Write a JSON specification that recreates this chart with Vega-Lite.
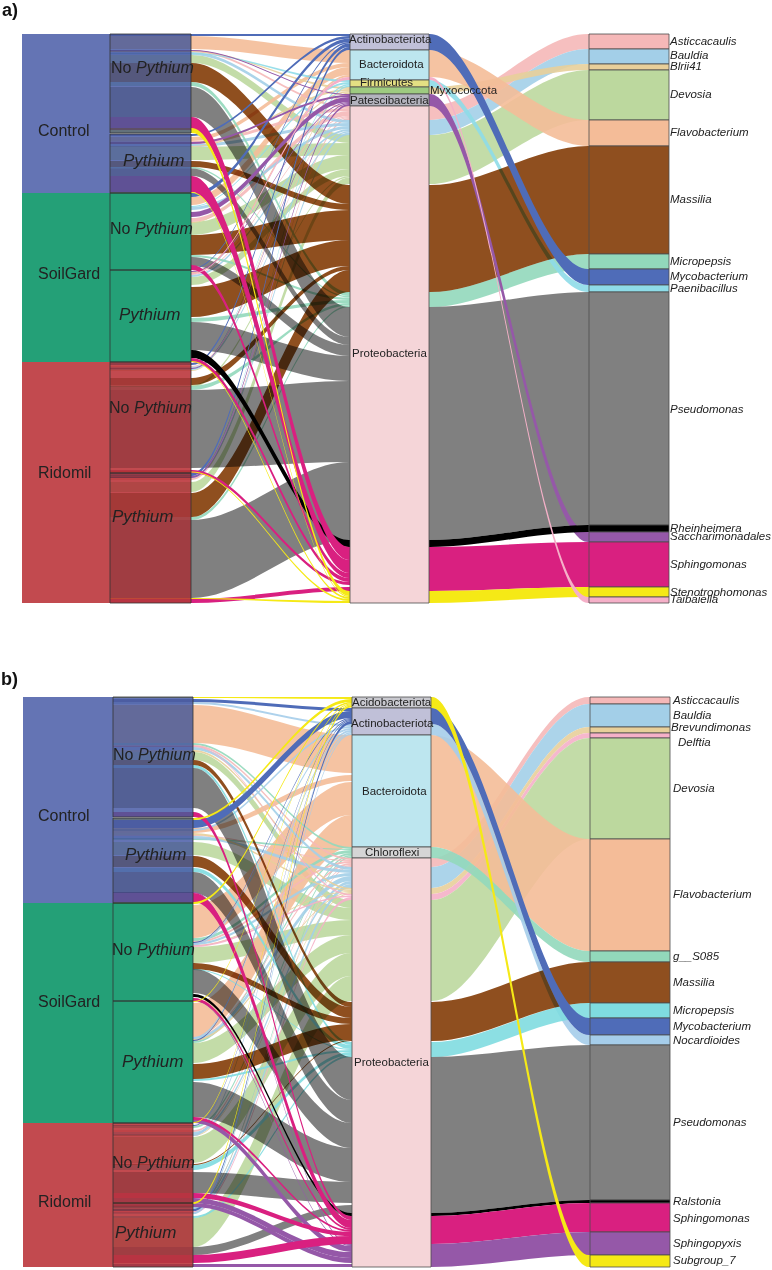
{"$schema":"https://vega.github.io/schema/vega-lite/v6.json","width":772,"height":1270,"padding":0,"autosize":{"type":"none"},"background":"white","config":{"view":{"stroke":null}},
"datasets":{
"boxes":[
{"k":"1","g":"Control","x":22,"x2":110,"y":34,"e":193},{"k":"1","g":"SoilGard","x":22,"x2":110,"y":193,"e":362},{"k":"1","g":"Ridomil","x":22,"x2":110,"y":362,"e":603},
{"k":"2","g":"Control","x":110,"x2":191,"y":34,"e":133},{"k":"2","g":"Control","x":110,"x2":191,"y":134,"e":193},{"k":"2","g":"SoilGard","x":110,"x2":191,"y":193,"e":270},{"k":"2","g":"SoilGard","x":110,"x2":191,"y":270,"e":362},{"k":"2","g":"Ridomil","x":110,"x2":191,"y":362,"e":473},{"k":"2","g":"Ridomil","x":110,"x2":191,"y":473,"e":603},
{"k":"1","g":"Control","x":23,"x2":113,"y":697,"e":903},{"k":"1","g":"SoilGard","x":23,"x2":113,"y":903,"e":1123},{"k":"1","g":"Ridomil","x":23,"x2":113,"y":1123,"e":1267},
{"k":"2","g":"Control","x":113,"x2":193,"y":697,"e":817},{"k":"2","g":"Control","x":113,"x2":193,"y":818,"e":903},{"k":"2","g":"SoilGard","x":113,"x2":193,"y":903,"e":1001},{"k":"2","g":"SoilGard","x":113,"x2":193,"y":1001,"e":1123},{"k":"2","g":"Ridomil","x":113,"x2":193,"y":1123,"e":1203},{"k":"2","g":"Ridomil","x":113,"x2":193,"y":1203,"e":1267},
{"k":"3","g":"Actinobacteriota","x":350,"x2":429,"y":34,"e":50},{"k":"3","g":"Bacteroidota","x":350,"x2":429,"y":50,"e":80},{"k":"3","g":"Firmicutes","x":350,"x2":429,"y":80,"e":87},{"k":"3","g":"Myxococcota","x":350,"x2":429,"y":87,"e":94},{"k":"3","g":"Patescibacteria","x":350,"x2":429,"y":94,"e":106},{"k":"3","g":"Proteobacteria","x":350,"x2":429,"y":106,"e":603},
{"k":"3","g":"Ast","x":589,"x2":669,"y":34,"e":49},{"k":"3","g":"Bau","x":589,"x2":669,"y":49,"e":64},{"k":"3","g":"Bli","x":589,"x2":669,"y":64,"e":70},{"k":"3","g":"Dev","x":589,"x2":669,"y":70,"e":120},{"k":"3","g":"Fla","x":589,"x2":669,"y":120,"e":146},{"k":"3","g":"Mas","x":589,"x2":669,"y":146,"e":254},{"k":"3","g":"Mic","x":589,"x2":669,"y":254,"e":269},{"k":"3","g":"Myc","x":589,"x2":669,"y":269,"e":285},{"k":"3","g":"Pae","x":589,"x2":669,"y":285,"e":292},{"k":"3","g":"Pse","x":589,"x2":669,"y":292,"e":525},{"k":"3","g":"Rhe","x":589,"x2":669,"y":525,"e":532},{"k":"3","g":"Sac","x":589,"x2":669,"y":532,"e":542},{"k":"3","g":"Sph","x":589,"x2":669,"y":542,"e":587},{"k":"3","g":"Ste","x":589,"x2":669,"y":587,"e":597},{"k":"3","g":"Tai","x":589,"x2":669,"y":597,"e":603},
{"k":"3","g":"Acidobacteriota","x":352,"x2":431,"y":697,"e":708},{"k":"3","g":"Actinobacteriota","x":352,"x2":431,"y":708,"e":735},{"k":"3","g":"Bacteroidota","x":352,"x2":431,"y":735,"e":847},{"k":"3","g":"Chloroflexi","x":352,"x2":431,"y":847,"e":858},{"k":"3","g":"Proteobacteria","x":352,"x2":431,"y":858,"e":1267},
{"k":"3","g":"Ast","x":590,"x2":670,"y":697,"e":704},{"k":"3","g":"Bau","x":590,"x2":670,"y":704,"e":727},{"k":"3","g":"Bre","x":590,"x2":670,"y":727,"e":733},{"k":"3","g":"Del","x":590,"x2":670,"y":733,"e":738},{"k":"3","g":"Dev","x":590,"x2":670,"y":738,"e":839},{"k":"3","g":"Fla","x":590,"x2":670,"y":839,"e":951},{"k":"3","g":"S08","x":590,"x2":670,"y":951,"e":962},{"k":"3","g":"Mas","x":590,"x2":670,"y":962,"e":1003},{"k":"3","g":"Mi2","x":590,"x2":670,"y":1003,"e":1018},{"k":"3","g":"Myc","x":590,"x2":670,"y":1018,"e":1035},{"k":"3","g":"Noc","x":590,"x2":670,"y":1035,"e":1045},{"k":"3","g":"Pse","x":590,"x2":670,"y":1045,"e":1200},{"k":"3","g":"Ral","x":590,"x2":670,"y":1200,"e":1203},{"k":"3","g":"Sph","x":590,"x2":670,"y":1203,"e":1232},{"k":"3","g":"Spx","x":590,"x2":670,"y":1232,"e":1255},{"k":"3","g":"Sub","x":590,"x2":670,"y":1255,"e":1267}
],
"labels":[
{"t":"a)","k":"b","s":18,"x":2,"y":11},{"t":"b)","k":"b","s":18,"x":1,"y":680},
{"t":"Control","k":"n","s":16,"x":38,"y":131},{"t":"SoilGard","k":"n","s":16,"x":38,"y":274},{"t":"Ridomil","k":"n","s":16,"x":38,"y":473},
{"t":"Control","k":"n","s":16,"x":38,"y":816},{"t":"SoilGard","k":"n","s":16,"x":38,"y":1002},{"t":"Ridomil","k":"n","s":16,"x":38,"y":1202},
{"t":"No","k":"n","s":16,"x":111,"y":68},{"t":"Pythium","k":"i","s":16,"x":136,"y":68},{"t":"Pythium","k":"i","s":17,"x":123,"y":161},{"t":"No","k":"n","s":16,"x":110,"y":229},{"t":"Pythium","k":"i","s":16,"x":135,"y":229},{"t":"Pythium","k":"i","s":17,"x":119,"y":315},{"t":"No","k":"n","s":16,"x":109,"y":408},{"t":"Pythium","k":"i","s":16,"x":134,"y":408},{"t":"Pythium","k":"i","s":17,"x":112,"y":517},
{"t":"No","k":"n","s":16,"x":113,"y":755},{"t":"Pythium","k":"i","s":16,"x":138,"y":755},{"t":"Pythium","k":"i","s":17,"x":125,"y":855},{"t":"No","k":"n","s":16,"x":112,"y":950},{"t":"Pythium","k":"i","s":16,"x":137,"y":950},{"t":"Pythium","k":"i","s":17,"x":122,"y":1062},{"t":"No","k":"n","s":16,"x":112,"y":1163},{"t":"Pythium","k":"i","s":16,"x":137,"y":1163},{"t":"Pythium","k":"i","s":17,"x":115,"y":1233},
{"t":"Actinobacteriota","k":"n","s":11.5,"x":349,"y":40},{"t":"Bacteroidota","k":"n","s":11.5,"x":359,"y":65},{"t":"Firmicutes","k":"n","s":11.5,"x":360,"y":83},{"t":"Myxococcota","k":"n","s":11.5,"x":430,"y":91},{"t":"Patescibacteria","k":"n","s":11.5,"x":350,"y":101},{"t":"Proteobacteria","k":"n","s":11.5,"x":352,"y":354},
{"t":"Acidobacteriota","k":"n","s":11.5,"x":352,"y":703},{"t":"Actinobacteriota","k":"n","s":11.5,"x":351,"y":724},{"t":"Bacteroidota","k":"n","s":11.5,"x":362,"y":792},{"t":"Chloroflexi","k":"n","s":11.5,"x":365,"y":853},{"t":"Proteobacteria","k":"n","s":11.5,"x":354,"y":1063},
{"t":"Asticcacaulis","k":"i","s":11.5,"x":670,"y":42},{"t":"Bauldia","k":"i","s":11.5,"x":670,"y":56},{"t":"Blrii41","k":"i","s":11.5,"x":670,"y":67},{"t":"Devosia","k":"i","s":11.5,"x":670,"y":95},{"t":"Flavobacterium","k":"i","s":11.5,"x":670,"y":133},{"t":"Massilia","k":"i","s":11.5,"x":670,"y":200},{"t":"Micropepsis","k":"i","s":11.5,"x":670,"y":262},{"t":"Mycobacterium","k":"i","s":11.5,"x":670,"y":277},{"t":"Paenibacillus","k":"i","s":11.5,"x":670,"y":289},{"t":"Pseudomonas","k":"i","s":11.5,"x":670,"y":410},{"t":"Rheinheimera","k":"i","s":11.5,"x":670,"y":529},{"t":"Saccharimonadales","k":"i","s":11.5,"x":670,"y":537},{"t":"Sphingomonas","k":"i","s":11.5,"x":670,"y":565},{"t":"Stenotrophomonas","k":"i","s":11.5,"x":670,"y":593},{"t":"Taibaiella","k":"i","s":11.5,"x":670,"y":600},
{"t":"Asticcacaulis","k":"i","s":11.5,"x":673,"y":701},{"t":"Bauldia","k":"i","s":11.5,"x":673,"y":716},{"t":"Brevundimonas","k":"i","s":11.5,"x":671,"y":728},{"t":"Delftia","k":"i","s":11.5,"x":678,"y":743},{"t":"Devosia","k":"i","s":11.5,"x":673,"y":789},{"t":"Flavobacterium","k":"i","s":11.5,"x":673,"y":895},{"t":"g__S085","k":"i","s":11.5,"x":673,"y":957},{"t":"Massilia","k":"i","s":11.5,"x":673,"y":983},{"t":"Micropepsis","k":"i","s":11.5,"x":673,"y":1011},{"t":"Mycobacterium","k":"i","s":11.5,"x":673,"y":1027},{"t":"Nocardioides","k":"i","s":11.5,"x":673,"y":1041},{"t":"Pseudomonas","k":"i","s":11.5,"x":673,"y":1123},{"t":"Ralstonia","k":"i","s":11.5,"x":673,"y":1202},{"t":"Sphingomonas","k":"i","s":11.5,"x":673,"y":1219},{"t":"Sphingopyxis","k":"i","s":11.5,"x":673,"y":1244},{"t":"Subgroup_7","k":"i","s":11.5,"x":673,"y":1261}
],
"flows":[
{"f":"p1","g":"Ast","x":429,"y":106,"e":120},{"f":"p1","g":"Ast","x":430,"y":106,"e":120},{"f":"p1","g":"Ast","x":588,"y":34,"e":49},{"f":"p1","g":"Ast","x":589,"y":34,"e":49},
{"f":"p2","g":"Bau","x":429,"y":120,"e":135},{"f":"p2","g":"Bau","x":430,"y":120,"e":135},{"f":"p2","g":"Bau","x":588,"y":49,"e":64},{"f":"p2","g":"Bau","x":589,"y":49,"e":64},
{"f":"p3","g":"Dev","x":429,"y":135,"e":184},{"f":"p3","g":"Dev","x":430,"y":135,"e":184},{"f":"p3","g":"Dev","x":588,"y":70,"e":120},{"f":"p3","g":"Dev","x":589,"y":70,"e":120},
{"f":"p4","g":"Bli","x":429,"y":87,"e":94},{"f":"p4","g":"Bli","x":430,"y":87,"e":94},{"f":"p4","g":"Bli","x":588,"y":64,"e":70},{"f":"p4","g":"Bli","x":589,"y":64,"e":70},
{"f":"p5","g":"Fla","x":429,"y":50,"e":77},{"f":"p5","g":"Fla","x":430,"y":50,"e":77},{"f":"p5","g":"Fla","x":588,"y":120,"e":146},{"f":"p5","g":"Fla","x":589,"y":120,"e":146},
{"f":"p6","g":"Mic","x":429,"y":292,"e":307},{"f":"p6","g":"Mic","x":430,"y":292,"e":307},{"f":"p6","g":"Mic","x":588,"y":254,"e":269},{"f":"p6","g":"Mic","x":589,"y":254,"e":269},
{"f":"p7","g":"Pae","x":429,"y":80,"e":87},{"f":"p7","g":"Pae","x":430,"y":80,"e":87},{"f":"p7","g":"Pae","x":588,"y":285,"e":292},{"f":"p7","g":"Pae","x":589,"y":285,"e":292},
{"f":"p8","g":"Pse","x":429,"y":307,"e":540},{"f":"p8","g":"Pse","x":430,"y":307,"e":540},{"f":"p8","g":"Pse","x":588,"y":292,"e":525},{"f":"p8","g":"Pse","x":589,"y":292,"e":525},
{"f":"p9","g":"Mas","x":429,"y":185,"e":292},{"f":"p9","g":"Mas","x":430,"y":185,"e":292},{"f":"p9","g":"Mas","x":588,"y":146,"e":254},{"f":"p9","g":"Mas","x":589,"y":146,"e":254},
{"f":"p10","g":"Myc","x":429,"y":34,"e":50},{"f":"p10","g":"Myc","x":430,"y":34,"e":50},{"f":"p10","g":"Myc","x":588,"y":269,"e":285},{"f":"p10","g":"Myc","x":589,"y":269,"e":285},
{"f":"p11","g":"Sac","x":429,"y":94,"e":106},{"f":"p11","g":"Sac","x":430,"y":94,"e":106},{"f":"p11","g":"Sac","x":588,"y":532,"e":542},{"f":"p11","g":"Sac","x":589,"y":532,"e":542},
{"f":"p12","g":"Rhe","x":429,"y":540,"e":547},{"f":"p12","g":"Rhe","x":430,"y":540,"e":547},{"f":"p12","g":"Rhe","x":588,"y":525,"e":532},{"f":"p12","g":"Rhe","x":589,"y":525,"e":532},
{"f":"p13","g":"Sph","x":429,"y":547,"e":591},{"f":"p13","g":"Sph","x":430,"y":547,"e":591},{"f":"p13","g":"Sph","x":588,"y":542,"e":587},{"f":"p13","g":"Sph","x":589,"y":542,"e":587},
{"f":"p14","g":"Ste","x":429,"y":591,"e":603},{"f":"p14","g":"Ste","x":430,"y":591,"e":603},{"f":"p14","g":"Ste","x":588,"y":587,"e":597},{"f":"p14","g":"Ste","x":589,"y":587,"e":597},
{"f":"p15","g":"Tai","x":429,"y":77,"e":80},{"f":"p15","g":"Tai","x":430,"y":77,"e":80},{"f":"p15","g":"Tai","x":588,"y":597,"e":603},{"f":"p15","g":"Tai","x":589,"y":597,"e":603},
{"f":"q1","g":"Ast","x":431,"y":858,"e":867},{"f":"q1","g":"Ast","x":432,"y":858,"e":867},{"f":"q1","g":"Ast","x":589,"y":697,"e":704},{"f":"q1","g":"Ast","x":590,"y":697,"e":704},
{"f":"q2","g":"Bau","x":431,"y":867,"e":888},{"f":"q2","g":"Bau","x":432,"y":867,"e":888},{"f":"q2","g":"Bau","x":589,"y":704,"e":727},{"f":"q2","g":"Bau","x":590,"y":704,"e":727},
{"f":"q3","g":"Bre","x":431,"y":888,"e":894},{"f":"q3","g":"Bre","x":432,"y":888,"e":894},{"f":"q3","g":"Bre","x":589,"y":727,"e":733},{"f":"q3","g":"Bre","x":590,"y":727,"e":733},
{"f":"q4","g":"Del","x":431,"y":894,"e":900},{"f":"q4","g":"Del","x":432,"y":894,"e":900},{"f":"q4","g":"Del","x":589,"y":733,"e":738},{"f":"q4","g":"Del","x":590,"y":733,"e":738},
{"f":"q5","g":"Dev","x":431,"y":900,"e":1001},{"f":"q5","g":"Dev","x":432,"y":900,"e":1001},{"f":"q5","g":"Dev","x":589,"y":738,"e":839},{"f":"q5","g":"Dev","x":590,"y":738,"e":839},
{"f":"q6","g":"Fla","x":431,"y":735,"e":847},{"f":"q6","g":"Fla","x":432,"y":735,"e":847},{"f":"q6","g":"Fla","x":589,"y":839,"e":951},{"f":"q6","g":"Fla","x":590,"y":839,"e":951},
{"f":"q7","g":"S08","x":431,"y":847,"e":858},{"f":"q7","g":"S08","x":432,"y":847,"e":858},{"f":"q7","g":"S08","x":589,"y":951,"e":962},{"f":"q7","g":"S08","x":590,"y":951,"e":962},
{"f":"q8","g":"Noc","x":431,"y":724,"e":735},{"f":"q8","g":"Noc","x":432,"y":724,"e":735},{"f":"q8","g":"Noc","x":589,"y":1035,"e":1045},{"f":"q8","g":"Noc","x":590,"y":1035,"e":1045},
{"f":"q9","g":"Mi2","x":431,"y":1042,"e":1057},{"f":"q9","g":"Mi2","x":432,"y":1042,"e":1057},{"f":"q9","g":"Mi2","x":589,"y":1003,"e":1018},{"f":"q9","g":"Mi2","x":590,"y":1003,"e":1018},
{"f":"q10","g":"Pse","x":431,"y":1057,"e":1213},{"f":"q10","g":"Pse","x":432,"y":1057,"e":1213},{"f":"q10","g":"Pse","x":589,"y":1045,"e":1200},{"f":"q10","g":"Pse","x":590,"y":1045,"e":1200},
{"f":"q11","g":"Mas","x":431,"y":1002,"e":1041},{"f":"q11","g":"Mas","x":432,"y":1002,"e":1041},{"f":"q11","g":"Mas","x":589,"y":962,"e":1003},{"f":"q11","g":"Mas","x":590,"y":962,"e":1003},
{"f":"q12","g":"Myc","x":431,"y":708,"e":724},{"f":"q12","g":"Myc","x":432,"y":708,"e":724},{"f":"q12","g":"Myc","x":589,"y":1018,"e":1035},{"f":"q12","g":"Myc","x":590,"y":1018,"e":1035},
{"f":"q13","g":"Ral","x":431,"y":1213,"e":1216},{"f":"q13","g":"Ral","x":432,"y":1213,"e":1216},{"f":"q13","g":"Ral","x":589,"y":1200,"e":1203},{"f":"q13","g":"Ral","x":590,"y":1200,"e":1203},
{"f":"q14","g":"Sph","x":431,"y":1216,"e":1244},{"f":"q14","g":"Sph","x":432,"y":1216,"e":1244},{"f":"q14","g":"Sph","x":589,"y":1203,"e":1232},{"f":"q14","g":"Sph","x":590,"y":1203,"e":1232},
{"f":"q15","g":"Spx","x":431,"y":1244,"e":1267},{"f":"q15","g":"Spx","x":432,"y":1244,"e":1267},{"f":"q15","g":"Spx","x":589,"y":1232,"e":1255},{"f":"q15","g":"Spx","x":590,"y":1232,"e":1255},
{"f":"q16","g":"Sub","x":431,"y":697,"e":708},{"f":"q16","g":"Sub","x":432,"y":697,"e":708},{"f":"q16","g":"Sub","x":589,"y":1255,"e":1267},{"f":"q16","g":"Sub","x":590,"y":1255,"e":1267},
{"f":"a1","g":"Dev","x":191,"y":55,"e":63},{"f":"a1","g":"Dev","x":192,"y":55,"e":63},{"f":"a1","g":"Dev","x":349,"y":135,"e":143},{"f":"a1","g":"Dev","x":350,"y":135,"e":143},
{"f":"a2","g":"Dev","x":191,"y":147,"e":160},{"f":"a2","g":"Dev","x":192,"y":147,"e":160},{"f":"a2","g":"Dev","x":349,"y":143,"e":155},{"f":"a2","g":"Dev","x":350,"y":143,"e":155},
{"f":"a3","g":"Dev","x":191,"y":222,"e":235},{"f":"a3","g":"Dev","x":192,"y":222,"e":235},{"f":"a3","g":"Dev","x":349,"y":155,"e":169},{"f":"a3","g":"Dev","x":350,"y":155,"e":169},
{"f":"a4","g":"Dev","x":191,"y":277,"e":285},{"f":"a4","g":"Dev","x":192,"y":277,"e":285},{"f":"a4","g":"Dev","x":349,"y":169,"e":176},{"f":"a4","g":"Dev","x":350,"y":169,"e":176},
{"f":"a5","g":"Dev","x":191,"y":385,"e":387},{"f":"a5","g":"Dev","x":192,"y":385,"e":387},{"f":"a5","g":"Dev","x":349,"y":176,"e":177.5},{"f":"a5","g":"Dev","x":350,"y":176,"e":177.5},
{"f":"a6","g":"Dev","x":191,"y":482,"e":492},{"f":"a6","g":"Dev","x":192,"y":482,"e":492},{"f":"a6","g":"Dev","x":349,"y":177.5,"e":184},{"f":"a6","g":"Dev","x":350,"y":177.5,"e":184},
{"f":"a7","g":"Fla","x":191,"y":36,"e":49},{"f":"a7","g":"Fla","x":192,"y":36,"e":49},{"f":"a7","g":"Fla","x":349,"y":50,"e":63},{"f":"a7","g":"Fla","x":350,"y":50,"e":63},
{"f":"a8","g":"Fla","x":191,"y":137,"e":141},{"f":"a8","g":"Fla","x":192,"y":137,"e":141},{"f":"a8","g":"Fla","x":349,"y":63,"e":67},{"f":"a8","g":"Fla","x":350,"y":63,"e":67},
{"f":"a9","g":"Fla","x":191,"y":197,"e":205},{"f":"a9","g":"Fla","x":192,"y":197,"e":205},{"f":"a9","g":"Fla","x":349,"y":67,"e":75},{"f":"a9","g":"Fla","x":350,"y":67,"e":75},
{"f":"a10","g":"Fla","x":191,"y":272,"e":274},{"f":"a10","g":"Fla","x":192,"y":272,"e":274},{"f":"a10","g":"Fla","x":349,"y":75,"e":77},{"f":"a10","g":"Fla","x":350,"y":75,"e":77},
{"f":"a11","g":"Ast","x":191,"y":50,"e":52},{"f":"a11","g":"Ast","x":192,"y":50,"e":52},{"f":"a11","g":"Ast","x":349,"y":106,"e":108},{"f":"a11","g":"Ast","x":350,"y":106,"e":108},
{"f":"a12","g":"Ast","x":191,"y":141,"e":144},{"f":"a12","g":"Ast","x":192,"y":141,"e":144},{"f":"a12","g":"Ast","x":349,"y":108,"e":111},{"f":"a12","g":"Ast","x":350,"y":108,"e":111},
{"f":"a13","g":"Ast","x":191,"y":218,"e":222},{"f":"a13","g":"Ast","x":192,"y":218,"e":222},{"f":"a13","g":"Ast","x":349,"y":111,"e":116},{"f":"a13","g":"Ast","x":350,"y":111,"e":116},
{"f":"a14","g":"Ast","x":191,"y":274,"e":275},{"f":"a14","g":"Ast","x":192,"y":274,"e":275},{"f":"a14","g":"Ast","x":349,"y":116,"e":117},{"f":"a14","g":"Ast","x":350,"y":116,"e":117},
{"f":"a15","g":"Ast","x":191,"y":366,"e":367},{"f":"a15","g":"Ast","x":192,"y":366,"e":367},{"f":"a15","g":"Ast","x":349,"y":117,"e":118},{"f":"a15","g":"Ast","x":350,"y":117,"e":118},
{"f":"a16","g":"Ast","x":191,"y":478,"e":480},{"f":"a16","g":"Ast","x":192,"y":478,"e":480},{"f":"a16","g":"Ast","x":349,"y":118,"e":120},{"f":"a16","g":"Ast","x":350,"y":118,"e":120},
{"f":"a17","g":"Bau","x":191,"y":52,"e":55},{"f":"a17","g":"Bau","x":192,"y":52,"e":55},{"f":"a17","g":"Bau","x":349,"y":120,"e":123},{"f":"a17","g":"Bau","x":350,"y":120,"e":123},
{"f":"a18","g":"Bau","x":191,"y":144,"e":147},{"f":"a18","g":"Bau","x":192,"y":144,"e":147},{"f":"a18","g":"Bau","x":349,"y":123,"e":126},{"f":"a18","g":"Bau","x":350,"y":123,"e":126},
{"f":"a19","g":"Bau","x":191,"y":207,"e":210},{"f":"a19","g":"Bau","x":192,"y":207,"e":210},{"f":"a19","g":"Bau","x":349,"y":126,"e":129},{"f":"a19","g":"Bau","x":350,"y":126,"e":129},
{"f":"a20","g":"Bau","x":191,"y":275,"e":277},{"f":"a20","g":"Bau","x":192,"y":275,"e":277},{"f":"a20","g":"Bau","x":349,"y":129,"e":131},{"f":"a20","g":"Bau","x":350,"y":129,"e":131},
{"f":"a21","g":"Bau","x":191,"y":367,"e":369},{"f":"a21","g":"Bau","x":192,"y":367,"e":369},{"f":"a21","g":"Bau","x":349,"y":131,"e":132.5},{"f":"a21","g":"Bau","x":350,"y":131,"e":132.5},
{"f":"a22","g":"Bau","x":191,"y":475,"e":478},{"f":"a22","g":"Bau","x":192,"y":475,"e":478},{"f":"a22","g":"Bau","x":349,"y":132.5,"e":135},{"f":"a22","g":"Bau","x":350,"y":132.5,"e":135},
{"f":"a23","g":"Bli","x":191,"y":51,"e":52},{"f":"a23","g":"Bli","x":192,"y":51,"e":52},{"f":"a23","g":"Bli","x":349,"y":87,"e":89},{"f":"a23","g":"Bli","x":350,"y":87,"e":89},
{"f":"a24","g":"Bli","x":191,"y":146,"e":147},{"f":"a24","g":"Bli","x":192,"y":146,"e":147},{"f":"a24","g":"Bli","x":349,"y":89,"e":91},{"f":"a24","g":"Bli","x":350,"y":89,"e":91},
{"f":"a25","g":"Bli","x":191,"y":222,"e":223},{"f":"a25","g":"Bli","x":192,"y":222,"e":223},{"f":"a25","g":"Bli","x":349,"y":91,"e":92.5},{"f":"a25","g":"Bli","x":350,"y":91,"e":92.5},
{"f":"a26","g":"Bli","x":191,"y":370,"e":371},{"f":"a26","g":"Bli","x":192,"y":370,"e":371},{"f":"a26","g":"Bli","x":349,"y":92.5,"e":94},{"f":"a26","g":"Bli","x":350,"y":92.5,"e":94},
{"f":"a27","g":"Pae","x":191,"y":53,"e":54},{"f":"a27","g":"Pae","x":192,"y":53,"e":54},{"f":"a27","g":"Pae","x":349,"y":80,"e":82},{"f":"a27","g":"Pae","x":350,"y":80,"e":82},
{"f":"a28","g":"Pae","x":191,"y":206,"e":207},{"f":"a28","g":"Pae","x":192,"y":206,"e":207},{"f":"a28","g":"Pae","x":349,"y":82,"e":84},{"f":"a28","g":"Pae","x":350,"y":82,"e":84},
{"f":"a29","g":"Pae","x":191,"y":369,"e":370},{"f":"a29","g":"Pae","x":192,"y":369,"e":370},{"f":"a29","g":"Pae","x":349,"y":84,"e":85.5},{"f":"a29","g":"Pae","x":350,"y":84,"e":85.5},
{"f":"a30","g":"Pae","x":191,"y":477,"e":478},{"f":"a30","g":"Pae","x":192,"y":477,"e":478},{"f":"a30","g":"Pae","x":349,"y":85.5,"e":87},{"f":"a30","g":"Pae","x":350,"y":85.5,"e":87},
{"f":"a31","g":"Mic","x":191,"y":82,"e":86},{"f":"a31","g":"Mic","x":192,"y":82,"e":86},{"f":"a31","g":"Mic","x":349,"y":292,"e":296},{"f":"a31","g":"Mic","x":350,"y":292,"e":296},
{"f":"a32","g":"Mic","x":191,"y":167,"e":168.5},{"f":"a32","g":"Mic","x":192,"y":167,"e":168.5},{"f":"a32","g":"Mic","x":349,"y":296,"e":297.5},{"f":"a32","g":"Mic","x":350,"y":296,"e":297.5},
{"f":"a33","g":"Mic","x":191,"y":255,"e":257},{"f":"a33","g":"Mic","x":192,"y":255,"e":257},{"f":"a33","g":"Mic","x":349,"y":297.5,"e":300},{"f":"a33","g":"Mic","x":350,"y":297.5,"e":300},
{"f":"a34","g":"Mic","x":191,"y":318,"e":322},{"f":"a34","g":"Mic","x":192,"y":318,"e":322},{"f":"a34","g":"Mic","x":349,"y":300,"e":303},{"f":"a34","g":"Mic","x":350,"y":300,"e":303},
{"f":"a35","g":"Mic","x":191,"y":386,"e":390},{"f":"a35","g":"Mic","x":192,"y":386,"e":390},{"f":"a35","g":"Mic","x":349,"y":303,"e":305.5},{"f":"a35","g":"Mic","x":350,"y":303,"e":305.5},
{"f":"a36","g":"Mic","x":191,"y":517,"e":520},{"f":"a36","g":"Mic","x":192,"y":517,"e":520},{"f":"a36","g":"Mic","x":349,"y":305.5,"e":307},{"f":"a36","g":"Mic","x":350,"y":305.5,"e":307},
{"f":"a37","g":"Pse","x":191,"y":87,"e":117},{"f":"a37","g":"Pse","x":192,"y":87,"e":117},{"f":"a37","g":"Pse","x":349,"y":307,"e":337},{"f":"a37","g":"Pse","x":350,"y":307,"e":337},
{"f":"a38","g":"Pse","x":191,"y":168.5,"e":176},{"f":"a38","g":"Pse","x":192,"y":168.5,"e":176},{"f":"a38","g":"Pse","x":349,"y":337,"e":345},{"f":"a38","g":"Pse","x":350,"y":337,"e":345},
{"f":"a39","g":"Pse","x":191,"y":257,"e":266},{"f":"a39","g":"Pse","x":192,"y":257,"e":266},{"f":"a39","g":"Pse","x":349,"y":345,"e":356},{"f":"a39","g":"Pse","x":350,"y":345,"e":356},
{"f":"a40","g":"Pse","x":191,"y":322,"e":350},{"f":"a40","g":"Pse","x":192,"y":322,"e":350},{"f":"a40","g":"Pse","x":349,"y":356,"e":381},{"f":"a40","g":"Pse","x":350,"y":356,"e":381},
{"f":"a41","g":"Pse","x":191,"y":390,"e":468},{"f":"a41","g":"Pse","x":192,"y":390,"e":468},{"f":"a41","g":"Pse","x":349,"y":381,"e":462},{"f":"a41","g":"Pse","x":350,"y":381,"e":462},
{"f":"a42","g":"Pse","x":191,"y":520,"e":598},{"f":"a42","g":"Pse","x":192,"y":520,"e":598},{"f":"a42","g":"Pse","x":349,"y":462,"e":540},{"f":"a42","g":"Pse","x":350,"y":462,"e":540},
{"f":"a43","g":"Mas","x":191,"y":63,"e":82},{"f":"a43","g":"Mas","x":192,"y":63,"e":82},{"f":"a43","g":"Mas","x":349,"y":185,"e":204},{"f":"a43","g":"Mas","x":350,"y":185,"e":204},
{"f":"a44","g":"Mas","x":191,"y":161,"e":167},{"f":"a44","g":"Mas","x":192,"y":161,"e":167},{"f":"a44","g":"Mas","x":349,"y":204,"e":210},{"f":"a44","g":"Mas","x":350,"y":204,"e":210},
{"f":"a45","g":"Mas","x":191,"y":235,"e":255},{"f":"a45","g":"Mas","x":192,"y":235,"e":255},{"f":"a45","g":"Mas","x":349,"y":210,"e":240},{"f":"a45","g":"Mas","x":350,"y":210,"e":240},
{"f":"a46","g":"Mas","x":191,"y":287,"e":317},{"f":"a46","g":"Mas","x":192,"y":287,"e":317},{"f":"a46","g":"Mas","x":349,"y":240,"e":266},{"f":"a46","g":"Mas","x":350,"y":240,"e":266},
{"f":"a47","g":"Mas","x":191,"y":378,"e":385},{"f":"a47","g":"Mas","x":192,"y":378,"e":385},{"f":"a47","g":"Mas","x":349,"y":266,"e":270},{"f":"a47","g":"Mas","x":350,"y":266,"e":270},
{"f":"a48","g":"Mas","x":191,"y":493,"e":517},{"f":"a48","g":"Mas","x":192,"y":493,"e":517},{"f":"a48","g":"Mas","x":349,"y":270,"e":292},{"f":"a48","g":"Mas","x":350,"y":270,"e":292},
{"f":"a49","g":"Myc","x":191,"y":34,"e":36},{"f":"a49","g":"Myc","x":192,"y":34,"e":36},{"f":"a49","g":"Myc","x":349,"y":34,"e":36},{"f":"a49","g":"Myc","x":350,"y":34,"e":36},
{"f":"a50","g":"Myc","x":191,"y":134,"e":136},{"f":"a50","g":"Myc","x":192,"y":134,"e":136},{"f":"a50","g":"Myc","x":349,"y":36,"e":38.5},{"f":"a50","g":"Myc","x":350,"y":36,"e":38.5},
{"f":"a51","g":"Myc","x":191,"y":193,"e":197},{"f":"a51","g":"Myc","x":192,"y":193,"e":197},{"f":"a51","g":"Myc","x":349,"y":38.5,"e":42},{"f":"a51","g":"Myc","x":350,"y":38.5,"e":42},
{"f":"a52","g":"Myc","x":191,"y":268,"e":269},{"f":"a52","g":"Myc","x":192,"y":268,"e":269},{"f":"a52","g":"Myc","x":349,"y":42,"e":43.5},{"f":"a52","g":"Myc","x":350,"y":42,"e":43.5},
{"f":"a53","g":"Myc","x":191,"y":363,"e":365},{"f":"a53","g":"Myc","x":192,"y":363,"e":365},{"f":"a53","g":"Myc","x":349,"y":43.5,"e":47},{"f":"a53","g":"Myc","x":350,"y":43.5,"e":47},
{"f":"a54","g":"Myc","x":191,"y":473,"e":476},{"f":"a54","g":"Myc","x":192,"y":473,"e":476},{"f":"a54","g":"Myc","x":349,"y":47,"e":50},{"f":"a54","g":"Myc","x":350,"y":47,"e":50},
{"f":"a55","g":"Sac","x":191,"y":142,"e":144},{"f":"a55","g":"Sac","x":192,"y":142,"e":144},{"f":"a55","g":"Sac","x":349,"y":95,"e":97},{"f":"a55","g":"Sac","x":350,"y":95,"e":97},
{"f":"a56","g":"Sac","x":191,"y":212,"e":217},{"f":"a56","g":"Sac","x":192,"y":212,"e":217},{"f":"a56","g":"Sac","x":349,"y":97,"e":102},{"f":"a56","g":"Sac","x":350,"y":97,"e":102},
{"f":"a57","g":"Sac","x":191,"y":50,"e":51},{"f":"a57","g":"Sac","x":192,"y":50,"e":51},{"f":"a57","g":"Sac","x":349,"y":94,"e":95},{"f":"a57","g":"Sac","x":350,"y":94,"e":95},
{"f":"a58","g":"Sac","x":191,"y":271,"e":272},{"f":"a58","g":"Sac","x":192,"y":271,"e":272},{"f":"a58","g":"Sac","x":349,"y":102,"e":103},{"f":"a58","g":"Sac","x":350,"y":102,"e":103},
{"f":"a59","g":"Sac","x":191,"y":368,"e":369},{"f":"a59","g":"Sac","x":192,"y":368,"e":369},{"f":"a59","g":"Sac","x":349,"y":103,"e":104},{"f":"a59","g":"Sac","x":350,"y":103,"e":104},
{"f":"a60","g":"Sac","x":191,"y":476,"e":478},{"f":"a60","g":"Sac","x":192,"y":476,"e":478},{"f":"a60","g":"Sac","x":349,"y":104,"e":106},{"f":"a60","g":"Sac","x":350,"y":104,"e":106},
{"f":"a61","g":"Rhe","x":191,"y":350,"e":358},{"f":"a61","g":"Rhe","x":192,"y":350,"e":358},{"f":"a61","g":"Rhe","x":349,"y":540,"e":547},{"f":"a61","g":"Rhe","x":350,"y":540,"e":547},
{"f":"a62","g":"Sph","x":191,"y":117,"e":130},{"f":"a62","g":"Sph","x":192,"y":117,"e":130},{"f":"a62","g":"Sph","x":349,"y":547,"e":560},{"f":"a62","g":"Sph","x":350,"y":547,"e":560},
{"f":"a63","g":"Sph","x":191,"y":176,"e":192},{"f":"a63","g":"Sph","x":192,"y":176,"e":192},{"f":"a63","g":"Sph","x":349,"y":560,"e":573},{"f":"a63","g":"Sph","x":350,"y":560,"e":573},
{"f":"a64","g":"Sph","x":191,"y":265,"e":270},{"f":"a64","g":"Sph","x":192,"y":265,"e":270},{"f":"a64","g":"Sph","x":349,"y":573,"e":578},{"f":"a64","g":"Sph","x":350,"y":573,"e":578},
{"f":"a65","g":"Sph","x":191,"y":358,"e":362},{"f":"a65","g":"Sph","x":192,"y":358,"e":362},{"f":"a65","g":"Sph","x":349,"y":578,"e":582},{"f":"a65","g":"Sph","x":350,"y":578,"e":582},
{"f":"a66","g":"Sph","x":191,"y":470,"e":473},{"f":"a66","g":"Sph","x":192,"y":470,"e":473},{"f":"a66","g":"Sph","x":349,"y":582,"e":585},{"f":"a66","g":"Sph","x":350,"y":582,"e":585},
{"f":"a67","g":"Sph","x":191,"y":599,"e":603},{"f":"a67","g":"Sph","x":192,"y":599,"e":603},{"f":"a67","g":"Sph","x":349,"y":587,"e":591},{"f":"a67","g":"Sph","x":350,"y":587,"e":591},
{"f":"a68","g":"Ste","x":191,"y":128,"e":133},{"f":"a68","g":"Ste","x":192,"y":128,"e":133},{"f":"a68","g":"Ste","x":349,"y":591,"e":596},{"f":"a68","g":"Ste","x":350,"y":591,"e":596},
{"f":"a69","g":"Ste","x":191,"y":192,"e":193},{"f":"a69","g":"Ste","x":192,"y":192,"e":193},{"f":"a69","g":"Ste","x":349,"y":596,"e":597},{"f":"a69","g":"Ste","x":350,"y":596,"e":597},
{"f":"a70","g":"Ste","x":191,"y":361,"e":362},{"f":"a70","g":"Ste","x":192,"y":361,"e":362},{"f":"a70","g":"Ste","x":349,"y":597,"e":599},{"f":"a70","g":"Ste","x":350,"y":597,"e":599},
{"f":"a71","g":"Ste","x":191,"y":471.5,"e":472.5},{"f":"a71","g":"Ste","x":192,"y":471.5,"e":472.5},{"f":"a71","g":"Ste","x":349,"y":599,"e":601},{"f":"a71","g":"Ste","x":350,"y":599,"e":601},
{"f":"a72","g":"Ste","x":191,"y":598,"e":599},{"f":"a72","g":"Ste","x":192,"y":598,"e":599},{"f":"a72","g":"Ste","x":349,"y":601,"e":603},{"f":"a72","g":"Ste","x":350,"y":601,"e":603},
{"f":"a73","g":"Tai","x":191,"y":273,"e":274},{"f":"a73","g":"Tai","x":192,"y":273,"e":274},{"f":"a73","g":"Tai","x":349,"y":77,"e":80},{"f":"a73","g":"Tai","x":350,"y":77,"e":80},
{"f":"b1","g":"Dev","x":193,"y":752,"e":760},{"f":"b1","g":"Dev","x":194,"y":752,"e":760},{"f":"b1","g":"Dev","x":351,"y":900,"e":908},{"f":"b1","g":"Dev","x":352,"y":900,"e":908},
{"f":"b2","g":"Dev","x":193,"y":842,"e":855},{"f":"b2","g":"Dev","x":194,"y":842,"e":855},{"f":"b2","g":"Dev","x":351,"y":908,"e":920},{"f":"b2","g":"Dev","x":352,"y":908,"e":920},
{"f":"b3","g":"Dev","x":193,"y":947,"e":963},{"f":"b3","g":"Dev","x":194,"y":947,"e":963},{"f":"b3","g":"Dev","x":351,"y":920,"e":935},{"f":"b3","g":"Dev","x":352,"y":920,"e":935},
{"f":"b4","g":"Dev","x":193,"y":1043,"e":1063},{"f":"b4","g":"Dev","x":194,"y":1043,"e":1063},{"f":"b4","g":"Dev","x":351,"y":935,"e":953},{"f":"b4","g":"Dev","x":352,"y":935,"e":953},
{"f":"b5","g":"Dev","x":193,"y":1137,"e":1163},{"f":"b5","g":"Dev","x":194,"y":1137,"e":1163},{"f":"b5","g":"Dev","x":351,"y":953,"e":976},{"f":"b5","g":"Dev","x":352,"y":953,"e":976},
{"f":"b6","g":"Dev","x":193,"y":1218,"e":1247},{"f":"b6","g":"Dev","x":194,"y":1218,"e":1247},{"f":"b6","g":"Dev","x":351,"y":976,"e":1001},{"f":"b6","g":"Dev","x":352,"y":976,"e":1001},
{"f":"b7","g":"Fla","x":193,"y":705,"e":743},{"f":"b7","g":"Fla","x":194,"y":705,"e":743},{"f":"b7","g":"Fla","x":351,"y":735,"e":773},{"f":"b7","g":"Fla","x":352,"y":735,"e":773},
{"f":"b8","g":"Fla","x":193,"y":828,"e":833},{"f":"b8","g":"Fla","x":194,"y":828,"e":833},{"f":"b8","g":"Fla","x":351,"y":775,"e":781},{"f":"b8","g":"Fla","x":352,"y":775,"e":781},
{"f":"b9","g":"Fla","x":193,"y":905,"e":938},{"f":"b9","g":"Fla","x":194,"y":905,"e":938},{"f":"b9","g":"Fla","x":351,"y":782,"e":815},{"f":"b9","g":"Fla","x":352,"y":782,"e":815},
{"f":"b10","g":"Fla","x":193,"y":1003,"e":1037},{"f":"b10","g":"Fla","x":194,"y":1003,"e":1037},{"f":"b10","g":"Fla","x":351,"y":815,"e":847},{"f":"b10","g":"Fla","x":352,"y":815,"e":847},
{"f":"b11","g":"S08","x":193,"y":743,"e":745},{"f":"b11","g":"S08","x":194,"y":743,"e":745},{"f":"b11","g":"S08","x":351,"y":847,"e":849},{"f":"b11","g":"S08","x":352,"y":847,"e":849},
{"f":"b12","g":"S08","x":193,"y":838,"e":840},{"f":"b12","g":"S08","x":194,"y":838,"e":840},{"f":"b12","g":"S08","x":351,"y":849,"e":850},{"f":"b12","g":"S08","x":352,"y":849,"e":850},
{"f":"b13","g":"S08","x":193,"y":938,"e":941},{"f":"b13","g":"S08","x":194,"y":938,"e":941},{"f":"b13","g":"S08","x":351,"y":850,"e":853},{"f":"b13","g":"S08","x":352,"y":850,"e":853},
{"f":"b14","g":"S08","x":193,"y":1041,"e":1043},{"f":"b14","g":"S08","x":194,"y":1041,"e":1043},{"f":"b14","g":"S08","x":351,"y":853,"e":855},{"f":"b14","g":"S08","x":352,"y":853,"e":855},
{"f":"b15","g":"S08","x":193,"y":1126,"e":1128},{"f":"b15","g":"S08","x":194,"y":1126,"e":1128},{"f":"b15","g":"S08","x":351,"y":855,"e":856.5},{"f":"b15","g":"S08","x":352,"y":855,"e":856.5},
{"f":"b16","g":"S08","x":193,"y":1206,"e":1208},{"f":"b16","g":"S08","x":194,"y":1206,"e":1208},{"f":"b16","g":"S08","x":351,"y":856.5,"e":858},{"f":"b16","g":"S08","x":352,"y":856.5,"e":858},
{"f":"b17","g":"Ast","x":193,"y":745,"e":747},{"f":"b17","g":"Ast","x":194,"y":745,"e":747},{"f":"b17","g":"Ast","x":351,"y":858,"e":860},{"f":"b17","g":"Ast","x":352,"y":858,"e":860},
{"f":"b18","g":"Ast","x":193,"y":835,"e":836},{"f":"b18","g":"Ast","x":194,"y":835,"e":836},{"f":"b18","g":"Ast","x":351,"y":860,"e":861},{"f":"b18","g":"Ast","x":352,"y":860,"e":861},
{"f":"b19","g":"Ast","x":193,"y":941,"e":943},{"f":"b19","g":"Ast","x":194,"y":941,"e":943},{"f":"b19","g":"Ast","x":351,"y":861,"e":863},{"f":"b19","g":"Ast","x":352,"y":861,"e":863},
{"f":"b20","g":"Ast","x":193,"y":1037,"e":1038},{"f":"b20","g":"Ast","x":194,"y":1037,"e":1038},{"f":"b20","g":"Ast","x":351,"y":863,"e":865},{"f":"b20","g":"Ast","x":352,"y":863,"e":865},
{"f":"b21","g":"Ast","x":193,"y":1130,"e":1132},{"f":"b21","g":"Ast","x":194,"y":1130,"e":1132},{"f":"b21","g":"Ast","x":351,"y":865,"e":866},{"f":"b21","g":"Ast","x":352,"y":865,"e":866},
{"f":"b22","g":"Ast","x":193,"y":1205,"e":1206},{"f":"b22","g":"Ast","x":194,"y":1205,"e":1206},{"f":"b22","g":"Ast","x":351,"y":866,"e":867},{"f":"b22","g":"Ast","x":352,"y":866,"e":867},
{"f":"b23","g":"Bau","x":193,"y":747,"e":750},{"f":"b23","g":"Bau","x":194,"y":747,"e":750},{"f":"b23","g":"Bau","x":351,"y":867,"e":870},{"f":"b23","g":"Bau","x":352,"y":867,"e":870},
{"f":"b24","g":"Bau","x":193,"y":836,"e":839},{"f":"b24","g":"Bau","x":194,"y":836,"e":839},{"f":"b24","g":"Bau","x":351,"y":870,"e":873},{"f":"b24","g":"Bau","x":352,"y":870,"e":873},
{"f":"b25","g":"Bau","x":193,"y":943,"e":945},{"f":"b25","g":"Bau","x":194,"y":943,"e":945},{"f":"b25","g":"Bau","x":351,"y":873,"e":876},{"f":"b25","g":"Bau","x":352,"y":873,"e":876},
{"f":"b26","g":"Bau","x":193,"y":1037,"e":1041},{"f":"b26","g":"Bau","x":194,"y":1037,"e":1041},{"f":"b26","g":"Bau","x":351,"y":876,"e":881},{"f":"b26","g":"Bau","x":352,"y":876,"e":881},
{"f":"b27","g":"Bau","x":193,"y":1132,"e":1135},{"f":"b27","g":"Bau","x":194,"y":1132,"e":1135},{"f":"b27","g":"Bau","x":351,"y":881,"e":884},{"f":"b27","g":"Bau","x":352,"y":881,"e":884},
{"f":"b28","g":"Bau","x":193,"y":1207,"e":1211},{"f":"b28","g":"Bau","x":194,"y":1207,"e":1211},{"f":"b28","g":"Bau","x":351,"y":884,"e":888},{"f":"b28","g":"Bau","x":352,"y":884,"e":888},
{"f":"b29","g":"Bre","x":193,"y":750,"e":752},{"f":"b29","g":"Bre","x":194,"y":750,"e":752},{"f":"b29","g":"Bre","x":351,"y":888,"e":889.5},{"f":"b29","g":"Bre","x":352,"y":888,"e":889.5},
{"f":"b30","g":"Bre","x":193,"y":833,"e":835},{"f":"b30","g":"Bre","x":194,"y":833,"e":835},{"f":"b30","g":"Bre","x":351,"y":889.5,"e":891},{"f":"b30","g":"Bre","x":352,"y":889.5,"e":891},
{"f":"b31","g":"Bre","x":193,"y":945,"e":946},{"f":"b31","g":"Bre","x":194,"y":945,"e":946},{"f":"b31","g":"Bre","x":351,"y":891,"e":892},{"f":"b31","g":"Bre","x":352,"y":891,"e":892},
{"f":"b32","g":"Bre","x":193,"y":1039,"e":1041},{"f":"b32","g":"Bre","x":194,"y":1039,"e":1041},{"f":"b32","g":"Bre","x":351,"y":892,"e":893},{"f":"b32","g":"Bre","x":352,"y":892,"e":893},
{"f":"b33","g":"Bre","x":193,"y":1135,"e":1136},{"f":"b33","g":"Bre","x":194,"y":1135,"e":1136},{"f":"b33","g":"Bre","x":351,"y":893,"e":894},{"f":"b33","g":"Bre","x":352,"y":893,"e":894},
{"f":"b34","g":"Del","x":193,"y":746,"e":747},{"f":"b34","g":"Del","x":194,"y":746,"e":747},{"f":"b34","g":"Del","x":351,"y":894,"e":895.5},{"f":"b34","g":"Del","x":352,"y":894,"e":895.5},
{"f":"b35","g":"Del","x":193,"y":945,"e":947},{"f":"b35","g":"Del","x":194,"y":945,"e":947},{"f":"b35","g":"Del","x":351,"y":895.5,"e":897},{"f":"b35","g":"Del","x":352,"y":895.5,"e":897},
{"f":"b36","g":"Del","x":193,"y":1211,"e":1213},{"f":"b36","g":"Del","x":194,"y":1211,"e":1213},{"f":"b36","g":"Del","x":351,"y":897,"e":900},{"f":"b36","g":"Del","x":352,"y":897,"e":900},
{"f":"b37","g":"Noc","x":193,"y":702,"e":704},{"f":"b37","g":"Noc","x":194,"y":702,"e":704},{"f":"b37","g":"Noc","x":351,"y":724,"e":726},{"f":"b37","g":"Noc","x":352,"y":724,"e":726},
{"f":"b38","g":"Noc","x":193,"y":829,"e":831},{"f":"b38","g":"Noc","x":194,"y":829,"e":831},{"f":"b38","g":"Noc","x":351,"y":726,"e":728},{"f":"b38","g":"Noc","x":352,"y":726,"e":728},
{"f":"b39","g":"Noc","x":193,"y":943,"e":945},{"f":"b39","g":"Noc","x":194,"y":943,"e":945},{"f":"b39","g":"Noc","x":351,"y":728,"e":730},{"f":"b39","g":"Noc","x":352,"y":728,"e":730},
{"f":"b40","g":"Noc","x":193,"y":1037,"e":1039},{"f":"b40","g":"Noc","x":194,"y":1037,"e":1039},{"f":"b40","g":"Noc","x":351,"y":730,"e":732},{"f":"b40","g":"Noc","x":352,"y":730,"e":732},
{"f":"b41","g":"Noc","x":193,"y":1134,"e":1136},{"f":"b41","g":"Noc","x":194,"y":1134,"e":1136},{"f":"b41","g":"Noc","x":351,"y":732,"e":733.5},{"f":"b41","g":"Noc","x":352,"y":732,"e":733.5},
{"f":"b42","g":"Noc","x":193,"y":1212,"e":1214},{"f":"b42","g":"Noc","x":194,"y":1212,"e":1214},{"f":"b42","g":"Noc","x":351,"y":733.5,"e":735},{"f":"b42","g":"Noc","x":352,"y":733.5,"e":735},
{"f":"b43","g":"Mi2","x":193,"y":765,"e":768},{"f":"b43","g":"Mi2","x":194,"y":765,"e":768},{"f":"b43","g":"Mi2","x":351,"y":1042,"e":1045},{"f":"b43","g":"Mi2","x":352,"y":1042,"e":1045},
{"f":"b44","g":"Mi2","x":193,"y":868,"e":872},{"f":"b44","g":"Mi2","x":194,"y":868,"e":872},{"f":"b44","g":"Mi2","x":351,"y":1045,"e":1049},{"f":"b44","g":"Mi2","x":352,"y":1045,"e":1049},
{"f":"b45","g":"Mi2","x":193,"y":1079,"e":1081},{"f":"b45","g":"Mi2","x":194,"y":1079,"e":1081},{"f":"b45","g":"Mi2","x":351,"y":1050,"e":1052},{"f":"b45","g":"Mi2","x":352,"y":1050,"e":1052},
{"f":"b46","g":"Mi2","x":193,"y":1165,"e":1170},{"f":"b46","g":"Mi2","x":194,"y":1165,"e":1170},{"f":"b46","g":"Mi2","x":351,"y":1052,"e":1055},{"f":"b46","g":"Mi2","x":352,"y":1052,"e":1055},
{"f":"b47","g":"Mi2","x":193,"y":1216,"e":1218},{"f":"b47","g":"Mi2","x":194,"y":1216,"e":1218},{"f":"b47","g":"Mi2","x":351,"y":1055,"e":1057},{"f":"b47","g":"Mi2","x":352,"y":1055,"e":1057},
{"f":"b48","g":"Mi2","x":193,"y":969,"e":970},{"f":"b48","g":"Mi2","x":194,"y":969,"e":970},{"f":"b48","g":"Mi2","x":351,"y":1049,"e":1050},{"f":"b48","g":"Mi2","x":352,"y":1049,"e":1050},
{"f":"b49","g":"Pse","x":193,"y":768,"e":808},{"f":"b49","g":"Pse","x":194,"y":768,"e":808},{"f":"b49","g":"Pse","x":351,"y":1057,"e":1100},{"f":"b49","g":"Pse","x":352,"y":1057,"e":1100},
{"f":"b50","g":"Pse","x":193,"y":872,"e":893},{"f":"b50","g":"Pse","x":194,"y":872,"e":893},{"f":"b50","g":"Pse","x":351,"y":1100,"e":1123},{"f":"b50","g":"Pse","x":352,"y":1100,"e":1123},
{"f":"b51","g":"Pse","x":193,"y":969,"e":993},{"f":"b51","g":"Pse","x":194,"y":969,"e":993},{"f":"b51","g":"Pse","x":351,"y":1123,"e":1148},{"f":"b51","g":"Pse","x":352,"y":1123,"e":1148},
{"f":"b52","g":"Pse","x":193,"y":1082,"e":1117},{"f":"b52","g":"Pse","x":194,"y":1082,"e":1117},{"f":"b52","g":"Pse","x":351,"y":1148,"e":1182},{"f":"b52","g":"Pse","x":352,"y":1148,"e":1182},
{"f":"b53","g":"Pse","x":193,"y":1172,"e":1193},{"f":"b53","g":"Pse","x":194,"y":1172,"e":1193},{"f":"b53","g":"Pse","x":351,"y":1182,"e":1203},{"f":"b53","g":"Pse","x":352,"y":1182,"e":1203},
{"f":"b54","g":"Pse","x":193,"y":1247,"e":1255},{"f":"b54","g":"Pse","x":194,"y":1247,"e":1255},{"f":"b54","g":"Pse","x":351,"y":1205,"e":1213},{"f":"b54","g":"Pse","x":352,"y":1205,"e":1213},
{"f":"b55","g":"Mas","x":193,"y":760,"e":765},{"f":"b55","g":"Mas","x":194,"y":760,"e":765},{"f":"b55","g":"Mas","x":351,"y":1002,"e":1007},{"f":"b55","g":"Mas","x":352,"y":1002,"e":1007},
{"f":"b56","g":"Mas","x":193,"y":856,"e":867},{"f":"b56","g":"Mas","x":194,"y":856,"e":867},{"f":"b56","g":"Mas","x":351,"y":1007,"e":1018},{"f":"b56","g":"Mas","x":352,"y":1007,"e":1018},
{"f":"b57","g":"Mas","x":193,"y":963,"e":969},{"f":"b57","g":"Mas","x":194,"y":963,"e":969},{"f":"b57","g":"Mas","x":351,"y":1018,"e":1024},{"f":"b57","g":"Mas","x":352,"y":1018,"e":1024},
{"f":"b58","g":"Mas","x":193,"y":1064,"e":1079},{"f":"b58","g":"Mas","x":194,"y":1064,"e":1079},{"f":"b58","g":"Mas","x":351,"y":1024,"e":1040},{"f":"b58","g":"Mas","x":352,"y":1024,"e":1040},
{"f":"b59","g":"Mas","x":193,"y":1164,"e":1165},{"f":"b59","g":"Mas","x":194,"y":1164,"e":1165},{"f":"b59","g":"Mas","x":351,"y":1040,"e":1041},{"f":"b59","g":"Mas","x":352,"y":1040,"e":1041},
{"f":"b60","g":"Myc","x":193,"y":699,"e":702},{"f":"b60","g":"Myc","x":194,"y":699,"e":702},{"f":"b60","g":"Myc","x":351,"y":708,"e":711},{"f":"b60","g":"Myc","x":352,"y":708,"e":711},
{"f":"b61","g":"Myc","x":193,"y":820,"e":828},{"f":"b61","g":"Myc","x":194,"y":820,"e":828},{"f":"b61","g":"Myc","x":351,"y":711,"e":718},{"f":"b61","g":"Myc","x":352,"y":711,"e":718},
{"f":"b62","g":"Myc","x":193,"y":942,"e":943},{"f":"b62","g":"Myc","x":194,"y":942,"e":943},{"f":"b62","g":"Myc","x":351,"y":718,"e":719},{"f":"b62","g":"Myc","x":352,"y":718,"e":719},
{"f":"b63","g":"Myc","x":193,"y":1040,"e":1041},{"f":"b63","g":"Myc","x":194,"y":1040,"e":1041},{"f":"b63","g":"Myc","x":351,"y":719,"e":720},{"f":"b63","g":"Myc","x":352,"y":719,"e":720},
{"f":"b64","g":"Myc","x":193,"y":1125,"e":1126},{"f":"b64","g":"Myc","x":194,"y":1125,"e":1126},{"f":"b64","g":"Myc","x":351,"y":720,"e":721},{"f":"b64","g":"Myc","x":352,"y":720,"e":721},
{"f":"b65","g":"Myc","x":193,"y":1209,"e":1211},{"f":"b65","g":"Myc","x":194,"y":1209,"e":1211},{"f":"b65","g":"Myc","x":351,"y":721,"e":724},{"f":"b65","g":"Myc","x":352,"y":721,"e":724},
{"f":"b66","g":"Spx","x":193,"y":892,"e":893},{"f":"b66","g":"Spx","x":194,"y":892,"e":893},{"f":"b66","g":"Spx","x":351,"y":1244,"e":1245},{"f":"b66","g":"Spx","x":352,"y":1244,"e":1245},
{"f":"b67","g":"Spx","x":193,"y":1000,"e":1001},{"f":"b67","g":"Spx","x":194,"y":1000,"e":1001},{"f":"b67","g":"Spx","x":351,"y":1245,"e":1246},{"f":"b67","g":"Spx","x":352,"y":1245,"e":1246},
{"f":"b68","g":"Spx","x":193,"y":1118,"e":1123},{"f":"b68","g":"Spx","x":194,"y":1118,"e":1123},{"f":"b68","g":"Spx","x":351,"y":1246,"e":1252},{"f":"b68","g":"Spx","x":352,"y":1246,"e":1252},
{"f":"b69","g":"Spx","x":193,"y":1198,"e":1203},{"f":"b69","g":"Spx","x":194,"y":1198,"e":1203},{"f":"b69","g":"Spx","x":351,"y":1252,"e":1258},{"f":"b69","g":"Spx","x":352,"y":1252,"e":1258},
{"f":"b70","g":"Spx","x":193,"y":1203,"e":1207},{"f":"b70","g":"Spx","x":194,"y":1203,"e":1207},{"f":"b70","g":"Spx","x":351,"y":1258,"e":1263},{"f":"b70","g":"Spx","x":352,"y":1258,"e":1263},
{"f":"b71","g":"Spx","x":193,"y":1264,"e":1267},{"f":"b71","g":"Spx","x":194,"y":1264,"e":1267},{"f":"b71","g":"Spx","x":351,"y":1264,"e":1267},{"f":"b71","g":"Spx","x":352,"y":1264,"e":1267},
{"f":"b72","g":"Ral","x":193,"y":994,"e":997},{"f":"b72","g":"Ral","x":194,"y":994,"e":997},{"f":"b72","g":"Ral","x":351,"y":1213,"e":1216},{"f":"b72","g":"Ral","x":352,"y":1213,"e":1216},
{"f":"b73","g":"Sph","x":193,"y":812,"e":817},{"f":"b73","g":"Sph","x":194,"y":812,"e":817},{"f":"b73","g":"Sph","x":351,"y":1216,"e":1220},{"f":"b73","g":"Sph","x":352,"y":1216,"e":1220},
{"f":"b74","g":"Sph","x":193,"y":893,"e":902},{"f":"b74","g":"Sph","x":194,"y":893,"e":902},{"f":"b74","g":"Sph","x":351,"y":1220,"e":1228},{"f":"b74","g":"Sph","x":352,"y":1220,"e":1228},
{"f":"b75","g":"Sph","x":193,"y":998,"e":1001},{"f":"b75","g":"Sph","x":194,"y":998,"e":1001},{"f":"b75","g":"Sph","x":351,"y":1228,"e":1230},{"f":"b75","g":"Sph","x":352,"y":1228,"e":1230},
{"f":"b76","g":"Sph","x":193,"y":1117,"e":1120},{"f":"b76","g":"Sph","x":194,"y":1117,"e":1120},{"f":"b76","g":"Sph","x":351,"y":1230,"e":1232},{"f":"b76","g":"Sph","x":352,"y":1230,"e":1232},
{"f":"b77","g":"Sph","x":193,"y":1193,"e":1198},{"f":"b77","g":"Sph","x":194,"y":1193,"e":1198},{"f":"b77","g":"Sph","x":351,"y":1232,"e":1236},{"f":"b77","g":"Sph","x":352,"y":1232,"e":1236},
{"f":"b78","g":"Sph","x":193,"y":1255,"e":1263},{"f":"b78","g":"Sph","x":194,"y":1255,"e":1263},{"f":"b78","g":"Sph","x":351,"y":1236,"e":1244},{"f":"b78","g":"Sph","x":352,"y":1236,"e":1244},
{"f":"b79","g":"Sub","x":193,"y":697,"e":698},{"f":"b79","g":"Sub","x":194,"y":697,"e":698},{"f":"b79","g":"Sub","x":351,"y":697,"e":699},{"f":"b79","g":"Sub","x":352,"y":697,"e":699},
{"f":"b80","g":"Sub","x":193,"y":818,"e":820},{"f":"b80","g":"Sub","x":194,"y":818,"e":820},{"f":"b80","g":"Sub","x":351,"y":699,"e":702},{"f":"b80","g":"Sub","x":352,"y":699,"e":702},
{"f":"b81","g":"Sub","x":193,"y":902,"e":904},{"f":"b81","g":"Sub","x":194,"y":902,"e":904},{"f":"b81","g":"Sub","x":351,"y":702,"e":703.5},{"f":"b81","g":"Sub","x":352,"y":702,"e":703.5},
{"f":"b82","g":"Sub","x":193,"y":1001,"e":1002},{"f":"b82","g":"Sub","x":194,"y":1001,"e":1002},{"f":"b82","g":"Sub","x":351,"y":703.5,"e":704.5},{"f":"b82","g":"Sub","x":352,"y":703.5,"e":704.5},
{"f":"b83","g":"Sub","x":193,"y":1122,"e":1123},{"f":"b83","g":"Sub","x":194,"y":1122,"e":1123},{"f":"b83","g":"Sub","x":351,"y":704.5,"e":705.5},{"f":"b83","g":"Sub","x":352,"y":704.5,"e":705.5},
{"f":"b84","g":"Sub","x":193,"y":1202,"e":1204},{"f":"b84","g":"Sub","x":194,"y":1202,"e":1204},{"f":"b84","g":"Sub","x":351,"y":705.5,"e":707.5},{"f":"b84","g":"Sub","x":352,"y":705.5,"e":707.5}
]},
"encoding":{
"x":{"field":"x","type":"quantitative","scale":{"domain":[0,772],"zero":false,"nice":false},"axis":null},
"y":{"field":"y","type":"quantitative","scale":{"domain":[1270,0],"zero":false,"nice":false},"axis":null},
"color":{"field":"g","type":"nominal","legend":null,"scale":{"domain":["Control","SoilGard","Ridomil","Actinobacteriota","Bacteroidota","Firmicutes","Myxococcota","Patescibacteria","Proteobacteria","Acidobacteriota","Chloroflexi","Ast","Bau","Bli","Dev","Fla","Mas","Mic","Myc","Pae","Pse","Rhe","Sac","Sph","Ste","Tai","Bre","Del","S08","Mi2","Noc","Ral","Spx","Sub"],"range":["#6474b4","#24a077","#c24a4f","#c0c0d8","#bde6ef","#e4e083","#9ecb80","#b3b3bd","#f5d5d8","#c9c9cf","#d5d5d5","#f5b8b8","#a3cfe8","#e8cf9a","#bcd89e","#f4bc98","#8f4f1f","#92d8bb","#4f6cb8","#8edce8","#808080","#000000","#9558a8","#d92080","#f5e916","#f5b0c8","#e8cf9a","#f5b0c8","#92d8bb","#7fdce0","#a5cdea","#000000","#9558a8","#f5e916"]}}
},
"layer":[
{"data":{"name":"boxes"},"transform":[{"filter":"datum.k!='3'"}],"mark":{"type":"rect"},"encoding":{"x2":{"field":"x2"},"y2":{"field":"e"}}},
{"data":{"name":"flows"},"transform":[{"filter":"datum.x==191&&(datum.y<193||datum.y>=362)"}],"mark":{"type":"rect","opacity":0.35,"blend":"multiply"},"encoding":{"x":{"datum":110,"type":"quantitative"},"x2":{"datum":191},"y2":{"field":"e"}}},
{"data":{"name":"flows"},"transform":[{"filter":"datum.x==193&&(datum.y<903||datum.y>=1123)"}],"mark":{"type":"rect","opacity":0.35,"blend":"multiply"},"encoding":{"x":{"datum":113,"type":"quantitative"},"x2":{"datum":193},"y2":{"field":"e"}}},
{"data":{"name":"flows"},"transform":[{"filter":{"field":"g","oneOf":["Ast","Bau","Bli","Dev","Fla","Mic","Pae","Bre","Del","S08","Mi2","Noc"]}}],"mark":{"type":"area","interpolate":"monotone","orient":"vertical","opacity":0.9},"encoding":{"detail":{"field":"f"},"y2":{"field":"e"}}},
{"data":{"name":"flows"},"transform":[{"filter":{"field":"g","equal":"Pse"}}],"mark":{"type":"area","interpolate":"monotone","orient":"vertical","blend":"multiply"},"encoding":{"detail":{"field":"f"},"y2":{"field":"e"}}},
{"data":{"name":"flows"},"transform":[{"filter":{"field":"g","equal":"Mas"}}],"mark":{"type":"area","interpolate":"monotone","orient":"vertical","blend":"multiply"},"encoding":{"detail":{"field":"f"},"y2":{"field":"e"}}},
{"data":{"name":"flows"},"transform":[{"filter":{"field":"g","oneOf":["Myc","Rhe","Sac","Sph","Ste","Tai","Ral","Spx","Sub"]}}],"mark":{"type":"area","interpolate":"monotone","orient":"vertical"},"encoding":{"detail":{"field":"f"},"y2":{"field":"e"}}},
{"data":{"name":"boxes"},"transform":[{"filter":"datum.k=='2'"}],"mark":{"type":"rect","fillOpacity":0,"stroke":"#333333","strokeWidth":0.8},"encoding":{"x2":{"field":"x2"},"y2":{"field":"e"}}},
{"data":{"name":"boxes"},"transform":[{"filter":"datum.k=='3'"}],"mark":{"type":"rect","stroke":"#4d4d4d","strokeWidth":0.8},"encoding":{"x2":{"field":"x2"},"y2":{"field":"e"}}},
{"data":{"name":"labels"},"transform":[{"filter":"datum.k=='n'"}],"mark":{"type":"text","align":"left","baseline":"middle","font":"Liberation Sans"},"encoding":{"color":{"value":"#222222"},"text":{"field":"t"},"size":{"field":"s","type":"quantitative","scale":null}}},
{"data":{"name":"labels"},"transform":[{"filter":"datum.k=='i'"}],"mark":{"type":"text","align":"left","baseline":"middle","font":"Liberation Sans","fontStyle":"italic"},"encoding":{"color":{"value":"#222222"},"text":{"field":"t"},"size":{"field":"s","type":"quantitative","scale":null}}},
{"data":{"name":"labels"},"transform":[{"filter":"datum.k=='b'"}],"mark":{"type":"text","align":"left","baseline":"middle","font":"Liberation Sans","fontWeight":"bold"},"encoding":{"color":{"value":"#111111"},"text":{"field":"t"},"size":{"field":"s","type":"quantitative","scale":null}}}
]}
